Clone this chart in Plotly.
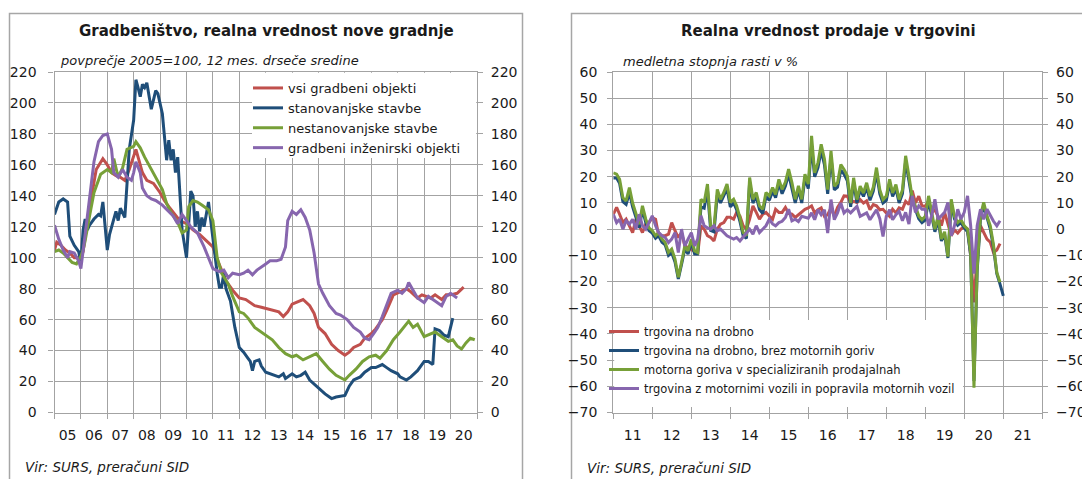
import pandas as pd
import plotly.graph_objects as go

# ---------------- LEFT CHART DATA (index 2005=100, 12-month moving averages) ----------------
left_names = ["vsi gradbeni objekti", "stanovanjske stavbe", "nestanovanjske stavbe",
              "gradbeni inženirski objekti"]

vsi_dates = ["2005-01","2005-02","2005-04","2005-06","2005-08","2005-10",
             "2006-01","2006-02","2006-04","2006-06","2006-08","2006-11",
             "2007-01","2007-03","2007-05","2007-07","2007-09","2007-11",
             "2008-01","2008-02","2008-04","2008-05","2008-07","2008-10",
             "2009-01","2009-03","2009-05","2009-08","2009-10",
             "2010-01","2010-04","2010-07","2010-10",
             "2011-01","2011-03","2011-05","2011-07","2011-10",
             "2012-01","2012-04","2012-06","2012-08","2012-11",
             "2013-02","2013-05","2013-07","2013-09","2013-11",
             "2014-01","2014-04","2014-06","2014-09","2014-11",
             "2015-01","2015-04","2015-07","2015-10",
             "2016-01","2016-03","2016-05","2016-08","2016-10",
             "2017-01","2017-03","2017-06","2017-08","2017-11",
             "2018-02","2018-05","2018-07","2018-10","2018-12",
             "2019-04","2019-06","2019-09","2019-11",
             "2020-01","2020-04","2020-07"]
vsi_values = [105,110,108,105,103,100,
              100,104,124,142,157,164,
              160,155,153,152,150,157,
              165,170,160,155,150,148,
              142,137,133,128,124,
              122,118,115,111,
              107,99,92,85,79,
              74,73,71,69,68,
              67,66,65,62,65,
              70,72,73,69,64,
              55,51,44,40,
              37,39,42,44,48,
              51,54,60,66,76,
              78,80,78,74,76,
              74,76,73,76,
              76,77,81]

stan_dates = ["2005-01","2005-03","2005-05","2005-07","2005-08","2005-10","2005-12",
              "2006-01","2006-02","2006-03","2006-04","2006-05","2006-07","2006-09","2006-10","2006-11",
              "2007-01","2007-02","2007-04","2007-05","2007-06","2007-07","2007-09","2007-10","2007-11",
              "2008-01","2008-02","2008-03","2008-04","2008-05","2008-06","2008-07","2008-08","2008-09","2008-11","2008-12",
              "2009-02","2009-03","2009-04","2009-05","2009-06","2009-07","2009-08","2009-09","2009-10","2009-11",
              "2010-01","2010-02","2010-03","2010-04","2010-05","2010-06","2010-07","2010-08","2010-09","2010-11",
              "2011-01","2011-03","2011-04","2011-05","2011-06","2011-07","2011-09","2011-11",
              "2012-01","2012-03","2012-05","2012-06","2012-07","2012-08","2012-10","2012-11",
              "2013-01","2013-03","2013-05","2013-07","2013-09","2013-10",
              "2014-01","2014-03","2014-05","2014-07","2014-09",
              "2015-01","2015-04","2015-07","2015-09",
              "2016-01","2016-03","2016-05","2016-08","2016-10",
              "2017-01","2017-03","2017-06","2017-08","2017-10",
              "2018-01","2018-02","2018-05","2018-07","2018-10",
              "2019-01","2019-03","2019-05","2019-06","2019-08","2019-10","2019-12",
              "2020-02"]
stan_values = [128,136,138,136,114,108,104,
               97,118,125,118,121,125,128,127,136,
               105,115,125,130,124,132,126,146,170,
               189,215,210,204,212,210,213,204,196,208,206,
               193,176,163,176,163,170,155,165,140,118,
               100,125,143,140,120,130,117,126,120,136,
               112,90,81,81,90,80,72,55,
               42,39,35,33,27,33,34,30,
               26,25,24,23,25,22,
               25,23,24,26,21,
               16,12,9,10,
               11,17,21,23,26,
               29,29,31,29,27,
               25,23,21,23,27,
               33,33,31,54,53,50,49,
               61]

nestan_dates = ["2005-01","2005-03","2005-05","2005-07","2005-09","2005-11",
                "2006-01","2006-02","2006-03","2006-05","2006-07","2006-10",
                "2007-01","2007-03","2007-04","2007-06","2007-08","2007-10",
                "2008-01","2008-02","2008-04","2008-06","2008-09","2008-11",
                "2009-02","2009-04","2009-06","2009-09","2009-11",
                "2010-01","2010-02","2010-04","2010-06","2010-08","2010-11",
                "2011-01","2011-03","2011-05","2011-08","2011-10",
                "2012-01","2012-03","2012-05","2012-08","2012-11",
                "2013-02","2013-04","2013-07","2013-10",
                "2014-01","2014-03","2014-06","2014-09","2014-12",
                "2015-03","2015-06","2015-09",
                "2016-01","2016-03","2016-06","2016-09","2016-12",
                "2017-03","2017-05","2017-08","2017-11",
                "2018-02","2018-05","2018-06","2018-08","2018-10",
                "2019-01","2019-04","2019-06","2019-09","2019-12",
                "2020-02","2020-04","2020-06","2020-08","2020-10","2020-12"]
nestan_values = [104,105,103,100,97,96,
                 101,105,111,127,142,154,
                 157,155,164,152,158,170,
                 172,175,171,165,157,152,
                 144,135,129,123,116,
                 118,133,137,136,134,131,
                 124,100,90,83,75,
                 65,64,61,55,52,
                 49,47,42,38,
                 36,37,34,36,38,
                 33,28,24,
                 21,24,28,33,36,
                 37,35,40,47,
                 52,57,59,55,57,
                 49,51,52,49,46,
                 47,43,41,45,48,47]

inz_dates = ["2005-01","2005-03","2005-05","2005-07","2005-08","2005-10","2005-12",
             "2006-01","2006-03","2006-05","2006-07","2006-09","2006-11",
             "2007-01","2007-03","2007-04","2007-06","2007-08","2007-10","2007-12",
             "2008-01","2008-02","2008-04","2008-05","2008-07","2008-09","2008-11",
             "2009-02","2009-04","2009-07","2009-09","2009-11",
             "2010-01","2010-03","2010-06","2010-09",
             "2011-01","2011-04","2011-06","2011-08","2011-10",
             "2012-01","2012-03","2012-05","2012-07","2012-09",
             "2013-01","2013-03","2013-06","2013-08","2013-10","2013-11",
             "2014-01","2014-03","2014-05","2014-07","2014-09","2014-11",
             "2015-01","2015-03","2015-06","2015-09","2015-11",
             "2016-02","2016-05","2016-08","2016-10","2016-12",
             "2017-02","2017-04","2017-06","2017-08","2017-10",
             "2018-01","2018-03","2018-05","2018-06","2018-08","2018-10",
             "2019-01","2019-03","2019-06","2019-09","2019-11",
             "2020-01","2020-04"]
inz_values = [121,112,105,100,104,103,98,
              93,115,140,162,175,179,
              180,170,155,152,157,152,150,
              155,162,155,145,140,138,137,
              134,131,127,122,128,
              124,120,116,107,
              93,91,92,87,90,
              89,90,92,89,92,
              96,98,98,99,107,124,
              130,128,131,126,118,103,
              83,77,69,64,63,
              60,55,52,48,47,
              51,55,62,70,77,
              79,77,80,84,79,74,
              71,75,72,69,75,
              77,74]

left_ticklabels = ["05","06","07","08","09","10","11","12","13","14","15","16","17","18","19","20"]
left_yticks = [0, 20, 40, 60, 80, 100, 120, 140, 160, 180, 200, 220]

# ---------------- RIGHT CHART DATA (y/y growth, %) ----------------
right_names = ["trgovina na drobno", "trgovina na drobno, brez motornih goriv",
               "motorna goriva v specializiranih prodajalnah",
               "trgovina z motornimi vozili in popravila motornih vozil"]

drobno_values = [5.7, 8.3, 5.7, 2.5, 3.8, 1.3, -1.3, 3.8, 1.3, -1.3, 1.9, 2.5,
                 4.4, 3.8, -2.5, -2.5, -2.5, -1.9, 2.5, -0.6, -3.2, -1.3, -6.4, -7.0,
                 -7.6, -8.5, -9.6, 1.3, 0.0, -2.5, -3.2, -4.5, 0.0, 1.9, 2.5, 4.5,
                 4.5, 3.8, 6.4, 5.0, 1.3, 0.0, 3.8, 8.9, 6.4, 3.8, 5.7, 6.4,
                 5.0, 3.8, 7.6, 6.4, 6.4, 8.3, 6.0, 5.7, 4.5, 5.5, 6.8, 7.6,
                 8.1, 8.9, 6.2, 7.4, 8.1, 4.9, 5.5, 8.1, 4.9, 8.3, 10.2, 12.7,
                 12.6, 10.0, 10.6, 10.2, 11.3, 10.0, 10.8, 7.4, 9.4, 8.9, 7.4, 7.6,
                 6.2, 4.9, 7.6, 6.2, 8.1, 7.6, 10.6, 9.4, 14.7, 10.0, 12.6, 8.9,
                 8.7, 10.6, 6.4, 7.4, 4.9, 1.3, 6.4, 2.3, -2.5, -0.3, -1.5, 0.0,
                 1.0, 0.0, -10.0, -28.0, -10.0, 1.3, -1.3, -3.8, -5.0, -8.9, -8.0, -5.5]

brez_goriv_values = [19.5, 19.5, 17.5, 10.5, 9.5, 14.0, 8.5, 4.5, 0.5, 7.5, 2.5, -0.5,
                     -1.5, -3.5, -2.5, -5.0, -6.0, -10.0, -9.0, -12.5, -19.0, -13.5, -7.5, -9.5,
                     -5.0, -9.5, -9.5, 8.5, 8.0, 15.0, -0.5, -1.0, 13.0, 10.0, 12.5, 15.5,
                     8.5, 10.0, 7.5, 3.0, -2.5, -3.5, 18.0, 10.0, 12.5, 7.5, 6.0, 12.5,
                     11.0, 14.5, 12.0, 17.5, 13.5, 16.5, 21.0, 16.0, 10.0, 15.0, 10.0, 19.5,
                     15.5, 32.0, 20.0, 23.5, 30.0, 24.5, 13.5, 27.5, 15.0, 16.0, 22.5, 21.0,
                     18.5, 8.5, 18.0, 10.0, 15.0, 12.5, 16.0, 11.0, 14.5, 21.5, 13.5, 10.0,
                     11.0, 17.5, 12.5, 15.5, 10.0, 13.5, 26.0, 18.5, 11.0, 7.5, 4.0, 2.5,
                     3.5, 11.0, 5.0, -1.0, 3.5, -4.5, -2.0, -11.0, 10.0, 4.0, 1.5, 2.5,
                     0.5, -1.0, -10.0, -58.0, -16.0, 4.0, 9.0, 4.0, 0.0, -7.0, -17.0, -21.0,
                     -25.5]

goriva_values = [21.5, 21.0, 19.0, 12.0, 10.8, 15.9, 10.0, 5.7, 1.9, 8.9, 3.8, 0.5,
                 -0.6, -2.5, -1.3, -3.8, -5.1, -8.9, -7.6, -11.4, -18.4, -12.7, -6.4, -8.3,
                 -3.8, -8.3, -8.9, 11.4, 10.2, 17.2, 1.3, 0.6, 15.2, 11.4, 14.0, 17.2,
                 10.2, 11.4, 8.9, 4.4, -1.3, -2.5, 19.7, 11.4, 14.0, 8.9, 7.6, 14.0,
                 12.7, 15.9, 13.3, 19.0, 15.2, 18.0, 22.9, 17.8, 11.4, 16.5, 11.4, 21.0,
                 17.2, 35.6, 21.5, 25.4, 32.4, 26.7, 15.1, 29.9, 16.4, 17.7, 24.7, 22.8,
                 20.3, 10.0, 19.6, 11.3, 16.4, 13.8, 17.7, 12.6, 16.0, 23.5, 15.1, 11.3,
                 12.6, 19.0, 13.8, 17.0, 11.3, 15.0, 28.0, 20.3, 12.0, 8.7, 5.0, 3.6,
                 4.9, 12.7, 6.4, 0.0, 4.9, -3.8, -1.0, -10.5, 11.4, 4.9, 2.5, 3.6,
                 1.3, 0.0, -8.9, -60.5, -15.0, 5.0, 10.2, 5.0, 1.3, -6.0, -16.5, -20.3]

vozila_values = [5.7, 2.5, 3.8, 0.0, 3.2, 1.9, 3.8, 0.0, 5.7, 1.3, 0.0, 2.5,
                 5.1, 1.3, -1.3, -2.5, -3.2, -5.1, -3.8, -1.3, -8.9, 0.0, -6.4, -3.8,
                 -1.3, -6.4, -3.8, 5.1, 1.3, 0.5, 0.0, 1.3, -0.6, 0.0, -1.3, -2.5,
                 -3.2, -3.8, -3.2, -4.5, -3.0, -1.3, 0.0, -1.9, 1.3, -1.3, 0.0, 1.3,
                 3.8, 2.0, 1.3, 2.5, 3.0, 4.5, 7.6, 3.2, 3.8, 2.9, 4.9, 4.5,
                 4.2, 6.2, 3.6, 7.4, 5.5, 7.4, -1.5, 11.3, 3.6, 6.2, 10.0, 6.2,
                 7.4, 6.2, 7.5, 8.7, 4.9, 5.5, 6.2, 3.6, 5.5, 7.4, 4.0, -2.8,
                 4.9, 7.4, 3.6, 5.5, 6.8, 3.2, 6.4, 1.9, 12.7, 6.4, 8.9, 7.6,
                 7.6, 1.3, 5.0, 11.4, 3.8, 5.0, 6.4, 10.2, -2.5, 1.3, 7.6, 3.8,
                 6.4, 12.7, 1.3, -17.0, 1.3, 7.6, 3.8, 7.6, 5.0, 3.0, 1.3, 3.2]

right_ticklabels = ["11","12","13","14","15","16","17","18","19","20","21"]
right_yticks = [-70, -60, -50, -40, -30, -20, -10, 0, 10, 20, 30, 40, 50, 60]

for d, v in [(vsi_dates, vsi_values), (stan_dates, stan_values),
             (nestan_dates, nestan_values), (inz_dates, inz_values)]:
    assert len(d) == len(v), (len(d), len(v))

right_months = [d.strftime("%Y-%m") for d in pd.date_range("2011-01-01", periods=120, freq="MS")]
right_months_ext = [d.strftime("%Y-%m") for d in pd.date_range("2011-01-01", periods=121, freq="MS")]
assert len(drobno_values) == 120 and len(goriva_values) == 120 and len(vozila_values) == 120
assert len(brez_goriv_values) == 121

# ---------------- STYLE ----------------
COLORS = ["#C0504D", "#1F4E79", "#77A038", "#8766AE"]
FONT = "DejaVu Sans"
GRID = "#a3a3a3"
TXT = "#1a1a1a"
W, H = 1082, 479


def fx(px):
    return px / W


def fy(py):
    return 1 - py / H


fig = go.Figure()

left_data = [(vsi_dates, vsi_values), (stan_dates, stan_values),
             (nestan_dates, nestan_values), (inz_dates, inz_values)]
for i, (name, (d, v)) in enumerate(zip(left_names, left_data)):
    fig.add_trace(go.Scatter(x=d, y=v, name=name, mode="lines",
                             line=dict(color=COLORS[i], width=3),
                             xaxis="x", yaxis="y2" if i == 3 else "y",
                             legend="legend", hoverinfo="skip"))

right_data = [(right_months, drobno_values), (right_months_ext, brez_goriv_values),
              (right_months, goriva_values), (right_months, vozila_values)]
for i, (name, (d, v)) in enumerate(zip(right_names, right_data)):
    fig.add_trace(go.Scatter(x=d, y=v, name=name, mode="lines",
                             line=dict(color=COLORS[i], width=3),
                             xaxis="x2", yaxis="y4" if i == 3 else "y3",
                             legend="legend2", hoverinfo="skip"))

tickfont = dict(family=FONT, size=14, color=TXT)

left_xtickvals = [f"{2005 + i}-07-01" for i in range(len(left_ticklabels))]
right_xtickvals = [f"{2011 + i}-07-01" for i in range(len(right_ticklabels))]

ydom = [fy(412.5), fy(72)]


def xaxis_cfg(domain, rng, tickvals, ticktext, anchor):
    return dict(domain=domain, anchor=anchor, type="date", range=rng,
                tickmode="array", tickvals=tickvals, ticktext=ticktext,
                ticks="", showgrid=False, tickfont=tickfont, automargin=False,
                showline=True, linecolor=GRID, linewidth=1.3, mirror=True,
                ticklabelstandoff=10, zeroline=False,
                minor=dict(dtick="M12", tick0=rng[0], showgrid=True, gridcolor=GRID,
                           gridwidth=1.3, ticks="outside", ticklen=5, tickcolor=GRID,
                           tickwidth=1.3))


def yaxis_cfg(rng, tickvals, anchor, side="left", overlay=None, standoff=8):
    cfg = dict(range=rng, tickmode="array", tickvals=tickvals, side=side,
               ticks="outside", ticklen=5, tickcolor=GRID, tickwidth=1.3,
               tickfont=tickfont, zeroline=False, anchor=anchor, automargin=False,
               ticklabelstandoff=standoff)
    if overlay:
        cfg.update(overlaying=overlay, showgrid=False, showline=False)
    else:
        cfg.update(domain=ydom, showgrid=True, gridcolor=GRID, gridwidth=1.3,
                   showline=True, linecolor=GRID, linewidth=1.3, mirror=True)
    return cfg


fig.update_layout(
    width=W, height=H, autosize=False,
    margin=dict(l=0, r=0, t=0, b=0, pad=0, autoexpand=False),
    paper_bgcolor="white", plot_bgcolor="white",
    showlegend=True,
    xaxis=xaxis_cfg([fx(54.5), fx(477)], ["2005-01-01", "2021-01-01"],
                    left_xtickvals, left_ticklabels, "y"),
    yaxis=yaxis_cfg([0, 220], left_yticks, "x", standoff=9),
    yaxis2=yaxis_cfg([0, 220], left_yticks, "x", side="right", overlay="y", standoff=5),
    xaxis2=xaxis_cfg([fx(613.3), fx(1042.3)], ["2011-01-01", "2022-01-01"],
                     right_xtickvals, right_ticklabels, "y3"),
    yaxis3=yaxis_cfg([-70, 60], right_yticks, "x2", standoff=7),
    yaxis4=yaxis_cfg([-70, 60], right_yticks, "x2", side="right", overlay="y3", standoff=5),
    legend=dict(x=fx(248), y=fy(73), xanchor="left", yanchor="top",
                bgcolor="rgba(0,0,0,0)", borderwidth=0, tracegroupgap=0,
                font=dict(family=FONT, size=13, color=TXT)),
    legend2=dict(x=fx(604), y=fy(317), xanchor="left", yanchor="top",
                 bgcolor="rgba(0,0,0,0)", borderwidth=0, tracegroupgap=0,
                 font=dict(family=FONT, size=11.5, color=TXT)),
)

annotations = [
    dict(text="<b>Gradbeništvo, realna vrednost nove gradnje</b>", x=fx(266), y=fy(31),
         xanchor="center", yanchor="middle", font=dict(family=FONT, size=15, color=TXT)),
    dict(text="<i>povprečje 2005=100, 12 mes. drseče sredine</i>", x=fx(58), y=fy(61),
         xanchor="left", yanchor="middle", font=dict(family=FONT, size=13, color=TXT)),
    dict(text="<i>Vir: SURS, preračuni SID</i>", x=fx(23), y=fy(467),
         xanchor="left", yanchor="middle", font=dict(family=FONT, size=13.5, color=TXT)),
    dict(text="<b>Realna vrednost prodaje v trgovini</b>", x=fx(828), y=fy(31),
         xanchor="center", yanchor="middle", font=dict(family=FONT, size=15, color=TXT)),
    dict(text="<i>medletna stopnja rasti v %</i>", x=fx(621), y=fy(62),
         xanchor="left", yanchor="middle", font=dict(family=FONT, size=13, color=TXT)),
    dict(text="<i>Vir: SURS, preračuni SID</i>", x=fx(585), y=fy(468),
         xanchor="left", yanchor="middle", font=dict(family=FONT, size=13.5, color=TXT)),
]
for a in annotations:
    a.update(xref="paper", yref="paper", showarrow=False)
fig.update_layout(annotations=annotations)

fig.update_layout(shapes=[
    # panel frames
    dict(type="rect", xref="paper", yref="paper",
         x0=fx(9.5), x1=fx(522.5), y0=fy(500), y1=fy(13.5),
         line=dict(color="#a6a6a6", width=1.5), layer="below"),
    dict(type="rect", xref="paper", yref="paper",
         x0=fx(571.5), x1=fx(1100), y0=fy(500), y1=fy(13.5),
         line=dict(color="#a6a6a6", width=1.5), layer="below"),
    # white legend backgrounds covering the grid, leaving the axis lines visible
    dict(type="rect", xref="paper", yref="paper",
         x0=fx(252), x1=fx(476.2), y0=fy(158), y1=fy(72.8),
         line=dict(width=0), fillcolor="white", layer="above"),
    dict(type="rect", xref="paper", yref="paper",
         x0=fx(614.2), x1=fx(963), y0=fy(407), y1=fy(320),
         line=dict(width=0), fillcolor="white", layer="above"),
])

fig.write_html("out.html", config={"displayModeBar": False},
               post_script="document.body.style.margin='0px';")
